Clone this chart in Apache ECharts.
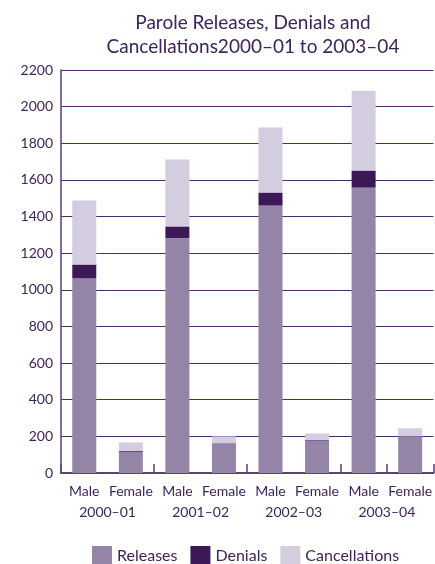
<!DOCTYPE html>
<html>
<head>
<meta charset="utf-8">
<script src="https://cdn.jsdelivr.net/npm/echarts@6/dist/echarts.min.js"></script>
<style>
  html, body { margin: 0; padding: 0; background: #fff; }
  #chart { width: 435px; height: 564px; }
</style>
</head>
<body>
<div id="chart"></div>
<script>
// Parole outcomes by sex and financial year
const categories = ['Male', 'Female', 'Male', 'Female', 'Male', 'Female', 'Male', 'Female'];
const years = ['2000–01', '2001–02', '2002–03', '2003–04'];
const releases = [1064, 116, 1282, 159, 1460, 174, 1558, 200];
const denials = [74, 4, 64, 3, 71, 5, 93, 1];
const cancellations = [349, 47, 365, 38, 355, 37, 436, 43];
const yTicks = { min: 0, max: 2200, interval: 200 };

const textColor = '#3d2459';
const fontFamily = 'Lato, "Noto Sans", sans-serif';

const chart = echarts.init(document.getElementById('chart'));
chart.setOption({
  animation: false,
  title: {
    text: 'Parole Releases, Denials and\nCancellations2000–01 to 2003–04',
    left: 248,
    textAlign: 'center',
    top: 6,
    textStyle: {
      color: textColor,
      fontFamily: fontFamily,
      fontWeight: 'normal',
      fontSize: 19,
      lineHeight: 24
    }
  },
  legend: {
    top: 541,
    left: 87,
    itemWidth: 20,
    itemHeight: 20,
    itemGap: 13,
    icon: 'rect',
    textStyle: { color: textColor, fontFamily: fontFamily, fontSize: 16 },
    data: ['Releases', 'Denials', 'Cancellations']
  },
  grid: { left: 61, right: 0, top: 70, bottom: 91, containLabel: false },
  xAxis: [
    {
      type: 'category',
      data: categories,
      axisLine: { lineStyle: { color: '#5a4078', width: 2 } },
      axisTick: { show: true, inside: true, length: 9, interval: 1, lineStyle: { color: '#5a4078', width: 1.5 } },
      axisLabel: { color: textColor, fontFamily: fontFamily, fontSize: 14, margin: 11, interval: 0 }
    },
    {
      type: 'category',
      data: years,
      position: 'bottom',
      axisLine: { show: false },
      axisTick: { show: false },
      axisLabel: { color: textColor, fontFamily: fontFamily, fontSize: 14, margin: 32, interval: 0 }
    }
  ],
  yAxis: {
    type: 'value',
    min: yTicks.min,
    max: yTicks.max,
    interval: yTicks.interval,
    axisLine: { show: true, lineStyle: { color: '#5a4078', width: 1.5 } },
    axisTick: { show: false },
    axisLabel: {
      color: textColor, fontFamily: fontFamily, fontSize: 14, margin: 8,
      formatter: function (v) { return String(v); }
    },
    splitLine: { lineStyle: { color: '#4a2d68', width: 1 } }
  },
  series: [
    {
      name: 'Releases', type: 'bar', stack: 'total', data: releases,
      barWidth: 24, itemStyle: { color: '#9484a8' }
    },
    {
      name: 'Denials', type: 'bar', stack: 'total', data: denials,
      barWidth: 24, itemStyle: { color: '#3b1856' }
    },
    {
      name: 'Cancellations', type: 'bar', stack: 'total', data: cancellations,
      barWidth: 24, itemStyle: { color: '#d4ccdf' }
    }
  ]
});
</script>
</body>
</html>
